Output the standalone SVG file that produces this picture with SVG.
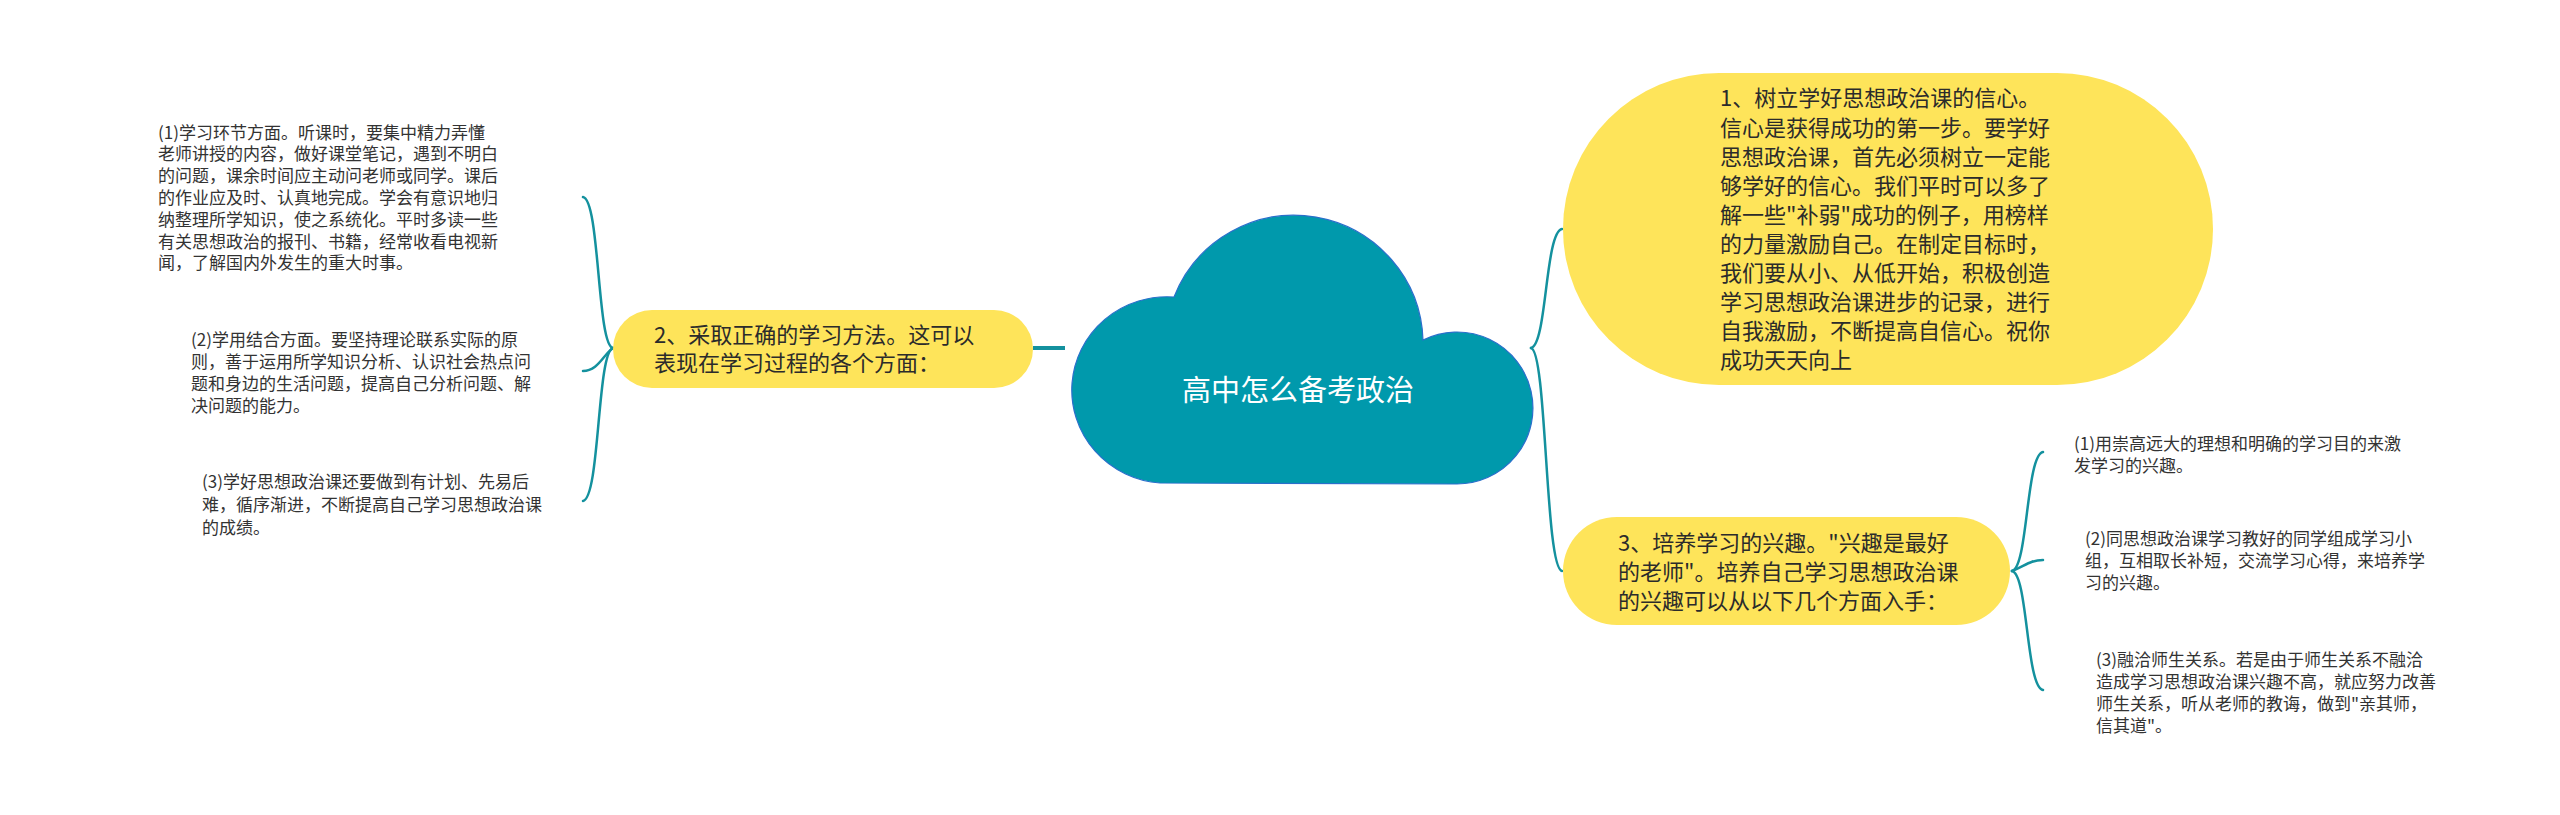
<svg xmlns="http://www.w3.org/2000/svg" width="2560" height="815" viewBox="0 0 2560 815">
<style>
.t1{font-family:"Noto Sans CJK SC","Microsoft YaHei",sans-serif;font-size:22px;fill:#2b2b2b}
.t2{font-family:"Noto Sans CJK SC","Microsoft YaHei",sans-serif;font-size:17px;fill:#333333}
.root{font-family:"Noto Sans CJK SC","Microsoft YaHei",sans-serif;font-size:29px;fill:#ffffff}
.pill{fill:#fee45a}
.conn{fill:none;stroke:#14919e;stroke-width:2.5;stroke-linecap:round}
</style>
<rect width="2560" height="815" fill="#ffffff"/>
<g id="connectors">
<line x1="1033" y1="348" x2="1065" y2="348" stroke="#14919e" stroke-width="4"/>
<path class="conn" d="M613,348 C597,346 600,200 583,197"/>
<path class="conn" d="M613,348 C603,355 598,371 583,371"/>
<path class="conn" d="M613,348 C597,352 600,498 583,501"/>
<path class="conn" d="M1531,348 C1547,345 1545,232 1562,229"/>
<path class="conn" d="M1531,348 C1547,351 1545,568 1562,571"/>
<path class="conn" d="M2012,571 C2028,568 2026,455 2043,452"/>
<path class="conn" d="M2012,571 C2025,566 2030,560 2043,560"/>
<path class="conn" d="M2012,571 C2028,574 2026,687 2043,690"/>
</g>
<g id="root">
<path d="M1160,483 A95,93 0 0 1 1174,297 A129,129 0 0 1 1423,340 A76,76 0 1 1 1456,484 Z" fill="#0099ac" stroke="#2a6fcb" stroke-width="1.2"/>
<text class="root" x="1298" y="401" text-anchor="middle">高中怎么备考政治</text>
</g>
<g id="node1">
<rect class="pill" x="1563" y="73" width="650" height="312" rx="156" ry="156"/>
<text class="t1">
<tspan x="1720" y="106.4">1、树立学好思想政治课的信心。</tspan>
<tspan x="1720" y="135.5">信心是获得成功的第一步。要学好</tspan>
<tspan x="1720" y="164.6">思想政治课，首先必须树立一定能</tspan>
<tspan x="1720" y="193.7">够学好的信心。我们平时可以多了</tspan>
<tspan x="1720" y="222.8">解一些"补弱"成功的例子，用榜样</tspan>
<tspan x="1720" y="251.9">的力量激励自己。在制定目标时，</tspan>
<tspan x="1720" y="281">我们要从小、从低开始，积极创造</tspan>
<tspan x="1720" y="310.1">学习思想政治课进步的记录，进行</tspan>
<tspan x="1720" y="339.2">自我激励，不断提高自信心。祝你</tspan>
<tspan x="1720" y="368.3">成功天天向上</tspan>
</text>
</g>
<g id="node2">
<rect class="pill" x="613" y="310" width="420" height="78" rx="39" ry="39"/>
<text class="t1">
<tspan x="654" y="343.4">2、采取正确的学习方法。这可以</tspan>
<tspan x="654" y="371.4">表现在学习过程的各个方面：</tspan>
</text>
</g>
<g id="node3">
<rect class="pill" x="1563" y="517" width="447" height="108" rx="54" ry="54"/>
<text class="t1">
<tspan x="1618" y="551.4">3、培养学习的兴趣。"兴趣是最好</tspan>
<tspan x="1618" y="580.4">的老师"。培养自己学习思想政治课</tspan>
<tspan x="1618" y="609.4">的兴趣可以从以下几个方面入手：</tspan>
</text>
</g>
<g id="node2-1">
<text class="t2">
<tspan x="158" y="138.5">(1)学习环节方面。听课时，要集中精力弄懂</tspan>
<tspan x="158" y="160.3">老师讲授的内容，做好课堂笔记，遇到不明白</tspan>
<tspan x="158" y="182.1">的问题，课余时间应主动问老师或同学。课后</tspan>
<tspan x="158" y="203.9">的作业应及时、认真地完成。学会有意识地归</tspan>
<tspan x="158" y="225.7">纳整理所学知识，使之系统化。平时多读一些</tspan>
<tspan x="158" y="247.5">有关思想政治的报刊、书籍，经常收看电视新</tspan>
<tspan x="158" y="269.3">闻，了解国内外发生的重大时事。</tspan>
</text>
</g>
<g id="node2-2">
<text class="t2">
<tspan x="191" y="345.5">(2)学用结合方面。要坚持理论联系实际的原</tspan>
<tspan x="191" y="367.5">则，善于运用所学知识分析、认识社会热点问</tspan>
<tspan x="191" y="389.5">题和身边的生活问题，提高自己分析问题、解</tspan>
<tspan x="191" y="411.5">决问题的能力。</tspan>
</text>
</g>
<g id="node2-3">
<text class="t2">
<tspan x="202" y="487.5">(3)学好思想政治课还要做到有计划、先易后</tspan>
<tspan x="202" y="510.5">难，循序渐进，不断提高自己学习思想政治课</tspan>
<tspan x="202" y="533.5">的成绩。</tspan>
</text>
</g>
<g id="node3-1">
<text class="t2">
<tspan x="2074" y="449.5">(1)用崇高远大的理想和明确的学习目的来激</tspan>
<tspan x="2074" y="471.5">发学习的兴趣。</tspan>
</text>
</g>
<g id="node3-2">
<text class="t2">
<tspan x="2085" y="544.5">(2)同思想政治课学习教好的同学组成学习小</tspan>
<tspan x="2085" y="566.5">组，互相取长补短，交流学习心得，来培养学</tspan>
<tspan x="2085" y="588.5">习的兴趣。</tspan>
</text>
</g>
<g id="node3-3">
<text class="t2">
<tspan x="2096" y="665.5">(3)融洽师生关系。若是由于师生关系不融洽</tspan>
<tspan x="2096" y="687.5">造成学习思想政治课兴趣不高，就应努力改善</tspan>
<tspan x="2096" y="709.5">师生关系，听从老师的教诲，做到"亲其师，</tspan>
<tspan x="2096" y="731.5">信其道"。</tspan>
</text>
</g>
</svg>
